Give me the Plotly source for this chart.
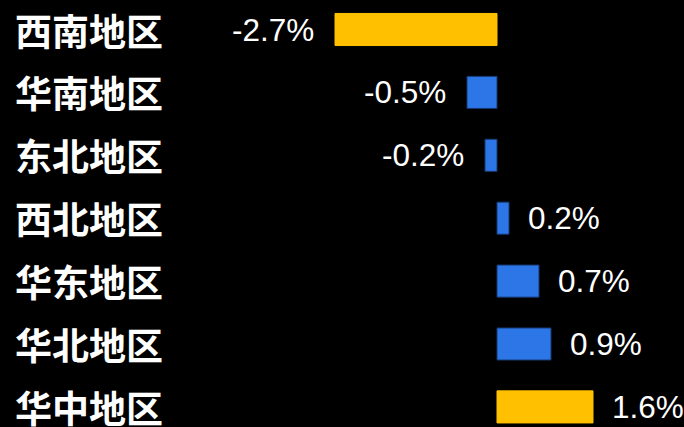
import plotly.graph_objects as go

regions = ["西南地区", "华南地区", "东北地区", "西北地区", "华东地区", "华北地区", "华中地区"]
values = [-2.7, -0.5, -0.2, 0.2, 0.7, 0.9, 1.6]
value_labels = ["-2.7%", "-0.5%", "-0.2%", "0.2%", "0.7%", "0.9%", "1.6%"]
highlight = [True, False, False, False, False, False, True]

GOLD = "#FFC000"
BLUE = "#2C76E8"

colors = [GOLD if h else BLUE for h in highlight]
line_colors = [GOLD if h else "#17386E" for h in highlight]
idx = list(range(len(regions)))

fig = go.Figure(go.Bar(
    x=values, y=idx, orientation="h",
    marker=dict(color=colors, line=dict(color=line_colors, width=1)),
    width=0.51, hoverinfo="skip",
))

W, H = 684, 427
zero_px, ppu = 497, 60.0
row0_px, row_step = 29.5, 62.9

annotations = []
for i, (r, v, t) in enumerate(zip(regions, values, value_labels)):
    annotations.append(dict(
        x=13 / W, xref="paper", y=i, yref="y", text=f"<b>{r}</b>",
        showarrow=False, xanchor="left", yanchor="middle",
        font=dict(family="Noto Sans CJK SC", size=37, color="white"),
    ))
    annotations.append(dict(
        x=v, xref="x", y=i, yref="y", text=t, showarrow=False,
        xanchor="right" if v < 0 else "left", yanchor="middle",
        xshift=-19 if v < 0 else 17,
        font=dict(family="Liberation Sans", size=31.5, color="white"),
    ))

fig.update_layout(
    width=W, height=H,
    margin=dict(l=0, r=0, t=0, b=0),
    paper_bgcolor="black", plot_bgcolor="black",
    showlegend=False,
    xaxis=dict(range=[-zero_px / ppu, (W - zero_px) / ppu], visible=False, fixedrange=True),
    yaxis=dict(range=[(H - row0_px) / row_step, -row0_px / row_step], visible=False, fixedrange=True),
    annotations=annotations,
)

fig.write_html(
    "out.html",
    config={"displayModeBar": False},
    post_script="document.body.style.margin='0';document.body.style.background='black';document.body.style.overflow='hidden';",
)
